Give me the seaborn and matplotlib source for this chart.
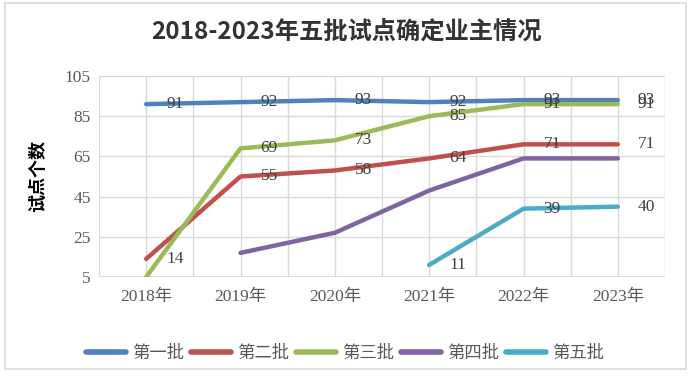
import matplotlib
matplotlib.use("Agg")
import matplotlib.pyplot as plt
import seaborn as sns
import pandas as pd
import numpy as np

years = ["2018年", "2019年", "2020年", "2021年", "2022年", "2023年"]
batches = ["第一批", "第二批", "第三批", "第四批", "第五批"]
batch1 = [91, 92, 93, 92, 93, 93]
batch2 = [14, 55, 58, 64, 71, 71]
batch3 = [5, 69, 73, 85, 91, 91]
batch4 = [np.nan, 17, 27, 48, 64, 64]
batch5 = [np.nan, np.nan, np.nan, 11, 39, 40]
# which points carry a data label
show1 = [True] * 6
show2 = [True] * 6
show3 = [False, True, True, True, True, True]
show4 = [False] * 6
show5 = [False, False, False, True, True, True]

colors = ["#4F81BD", "#C0504D", "#9BBB59", "#8064A2", "#4BACC6"]
series = [batch1, batch2, batch3, batch4, batch5]
shows = [show1, show2, show3, show4, show5]

rows = []
for b, vals in zip(batches, series):
    for i, v in enumerate(vals):
        rows.append({"idx": i, "year": years[i], "batch": b, "value": v})
df = pd.DataFrame(rows).dropna()

sns.set_theme(style="white")
plt.rcParams["font.family"] = ["Liberation Serif", "Noto Sans CJK SC", "DejaVu Sans"]

W, H = 689, 377
fig = plt.figure(figsize=(W / 100, H / 100), dpi=100)
ax = fig.add_axes([99 / W, 1 - 277 / H, (665 - 99) / W, (277 - 76) / H])

# outer chart border
fig.patches.append(plt.Rectangle((4.5 / W, 1 - 369 / H), (686 - 4.5) / W, (369 - 2.5) / H,
                                 transform=fig.transFigure, fill=False,
                                 edgecolor="#D9D9D9", linewidth=1.2, zorder=0))

sns.lineplot(data=df, x="idx", y="value", hue="batch", hue_order=batches,
             palette=colors, linewidth=3.2, ax=ax, legend=True, sort=False,
             solid_capstyle="round")

ax.set_xlim(-0.5, 5.5)
ax.set_ylim(5, 105)
ax.set_yticks([5, 25, 45, 65, 85, 105])
ax.set_xticks(range(6))
ax.set_xticklabels(years)
ax.grid(False)
for y in [25, 45, 65, 85, 105]:
    ax.axhline(y, color="#D9D9D9", linewidth=1, zorder=0)
for x in np.arange(-0.5, 5.6, 0.5):
    ax.axvline(x, color="#D9D9D9", linewidth=1, zorder=0)
ax.axhline(5, color="#D9D9D9", linewidth=1.2, zorder=0)
for s in ax.spines.values():
    s.set_visible(False)
ax.tick_params(axis="both", which="both", length=0, labelsize=12.5, colors="#595959")
ax.tick_params(axis="x", pad=9)
ax.tick_params(axis="y", pad=6)
ax.set_xlabel("")
ax.set_ylabel("试点个数", fontsize=13, fontweight="bold", color="#000000",
              family=["Noto Sans CJK SC"], labelpad=13)

for vals, sh in zip(series, shows):
    for i, (v, s) in enumerate(zip(vals, sh)):
        if s and not np.isnan(v):
            ax.annotate(f"{int(v)}", (i, v), xytext=(20, 0), textcoords="offset pixels",
                        ha="left", va="center", fontsize=12.5, color="#404040",
                        annotation_clip=False)

fig.text(346 / W, 1 - 32 / H, "2018-2023年五批试点确定业主情况", ha="center", va="center",
         fontsize=17.5, fontweight="bold", color="#333333", family=["Noto Sans CJK SC"])

handles, labels = ax.get_legend_handles_labels()
for h in handles:
    h.set_linewidth(4)
    h.set_solid_capstyle("round")
ax.legend(handles, labels, loc="center", bbox_to_anchor=(345 / W, 1 - 354 / H),
          bbox_transform=fig.transFigure, ncol=5, frameon=False, fontsize=12.5,
          handlelength=2.3, handletextpad=0.35, columnspacing=0.4, labelcolor="#595959")

fig.savefig("out.png", dpi=100)
